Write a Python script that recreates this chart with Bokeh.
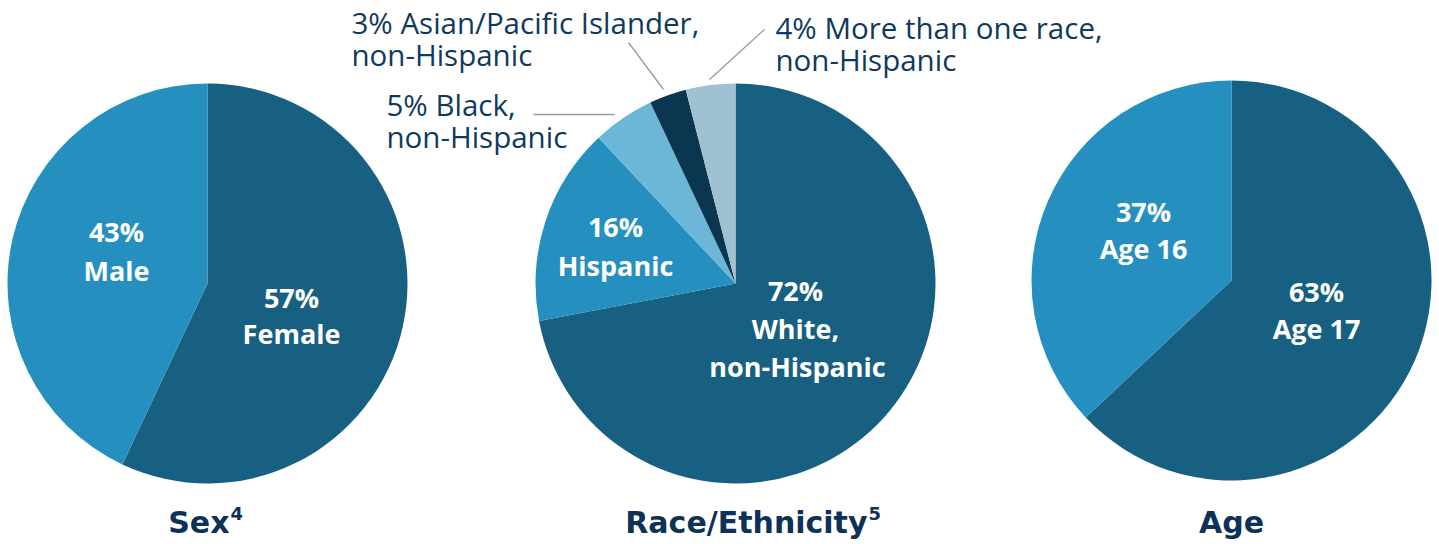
import math
from bokeh.plotting import figure
from bokeh.models import Range1d
from bokeh.core.properties import value
from bokeh.embed import file_html
from bokeh.resources import INLINE

W, H = 1439, 544

# ---- data ----
sex_labels = ["Female", "Male"]
sex_values = [57, 43]
race_labels = ["White, non-Hispanic", "Hispanic", "Black, non-Hispanic",
               "Asian/Pacific Islander, non-Hispanic", "More than one race, non-Hispanic"]
race_values = [72, 16, 5, 3, 4]
age_labels = ["Age 17", "Age 16"]
age_values = [63, 37]
titles = ["Sex", "Race/Ethnicity", "Age"]
title_notes = ["4", "5", ""]

# ---- styles ----
DARK = "#186081"
MID = "#2590c0"
LIGHT = "#6cb6d8"
NAVY = "#0b3650"
GRAY = "#9fc1d1"
TEXT = "#0f3a5d"
TITLE = "#0d3157"

sex_colors = [DARK, MID]
race_colors = [DARK, MID, LIGHT, NAVY, GRAY]
age_colors = [DARK, MID]

p = figure(width=W, height=H, x_range=Range1d(0, W), y_range=Range1d(0, H),
           output_backend="svg", toolbar_location=None, min_border=0)
p.axis.visible = False
p.grid.visible = False
p.outline_line_color = None
p.background_fill_color = "white"


def yy(ypix):
    return H - ypix


def pie(cx, cy, r, values, colors):
    total = float(sum(values))
    starts, ends = [], []
    a = math.pi / 2
    for v in values:
        starts.append(a)
        a = a - v / total * 2 * math.pi
        ends.append(a)
    p.wedge(x=[cx] * len(values), y=[yy(cy)] * len(values), radius=r,
            start_angle=starts, end_angle=ends, direction="clock",
            fill_color=colors, line_color=None)


R = 200
pie(207, 283, R, sex_values, sex_colors)
pie(735, 283, R, race_values, race_colors)
pie(1231, 280, R, age_values, age_colors)

FONT = "Open Sans"


def wtext(x, y, s, size="27px"):
    p.text(x=[x], y=[yy(y)], text=[s], text_color="white", text_font=value(FONT),
           text_font_style="bold", text_font_size=size, text_align="center",
           text_baseline="middle")


# inside labels
wtext(116, 231, f"{sex_values[1]}%")
wtext(116, 270, sex_labels[1])
wtext(291, 297, f"{sex_values[0]}%")
wtext(291, 333, sex_labels[0])

wtext(615, 226, f"{race_values[1]}%")
wtext(615, 265, race_labels[1])
wtext(795, 290, f"{race_values[0]}%")
wtext(795, 328, "White,")
wtext(797, 366, "non-Hispanic")

wtext(1143, 211, f"{age_values[1]}%")
wtext(1143, 248, age_labels[1])
wtext(1316, 291, f"{age_values[0]}%")
wtext(1316, 328, age_labels[0])


def otext(x, y, s):
    p.text(x=[x], y=[yy(y)], text=[s], text_color=TEXT, text_font=value(FONT),
           text_font_size="29.5px", text_align="left", text_baseline="middle")


otext(351, 22, f"{race_values[3]}% Asian/Pacific Islander,")
otext(351, 54, "non-Hispanic")
otext(386, 104, f"{race_values[2]}% Black,")
otext(386, 136, "non-Hispanic")
otext(775, 27, f"{race_values[4]}% More than one race,")
otext(775, 59, "non-Hispanic")

# leader lines
p.segment(x0=[533, 628, 764], y0=[yy(114), yy(42), yy(29)],
          x1=[614, 663, 709], y1=[yy(114), yy(89), yy(79)],
          line_color="#9a9a9a", line_width=1.3)

# titles (main word + superscript note)
TFONT = "DejaVu Sans"
title_x = [229, 867, 1231]
for tx, t, n in zip(title_x, titles, title_notes):
    p.text(x=[tx], y=[yy(522)], text=[t], text_color=TITLE,
           text_font=value(TFONT), text_font_style="bold",
           text_font_size="30px", text_align="right" if n else "center",
           text_baseline="middle")
    if n:
        p.text(x=[tx + 1], y=[yy(513)], text=[n], text_color=TITLE,
               text_font=value(TFONT), text_font_style="bold",
               text_font_size="18px", text_align="left",
               text_baseline="middle")

open("out.html", "w").write(file_html(p, INLINE))
